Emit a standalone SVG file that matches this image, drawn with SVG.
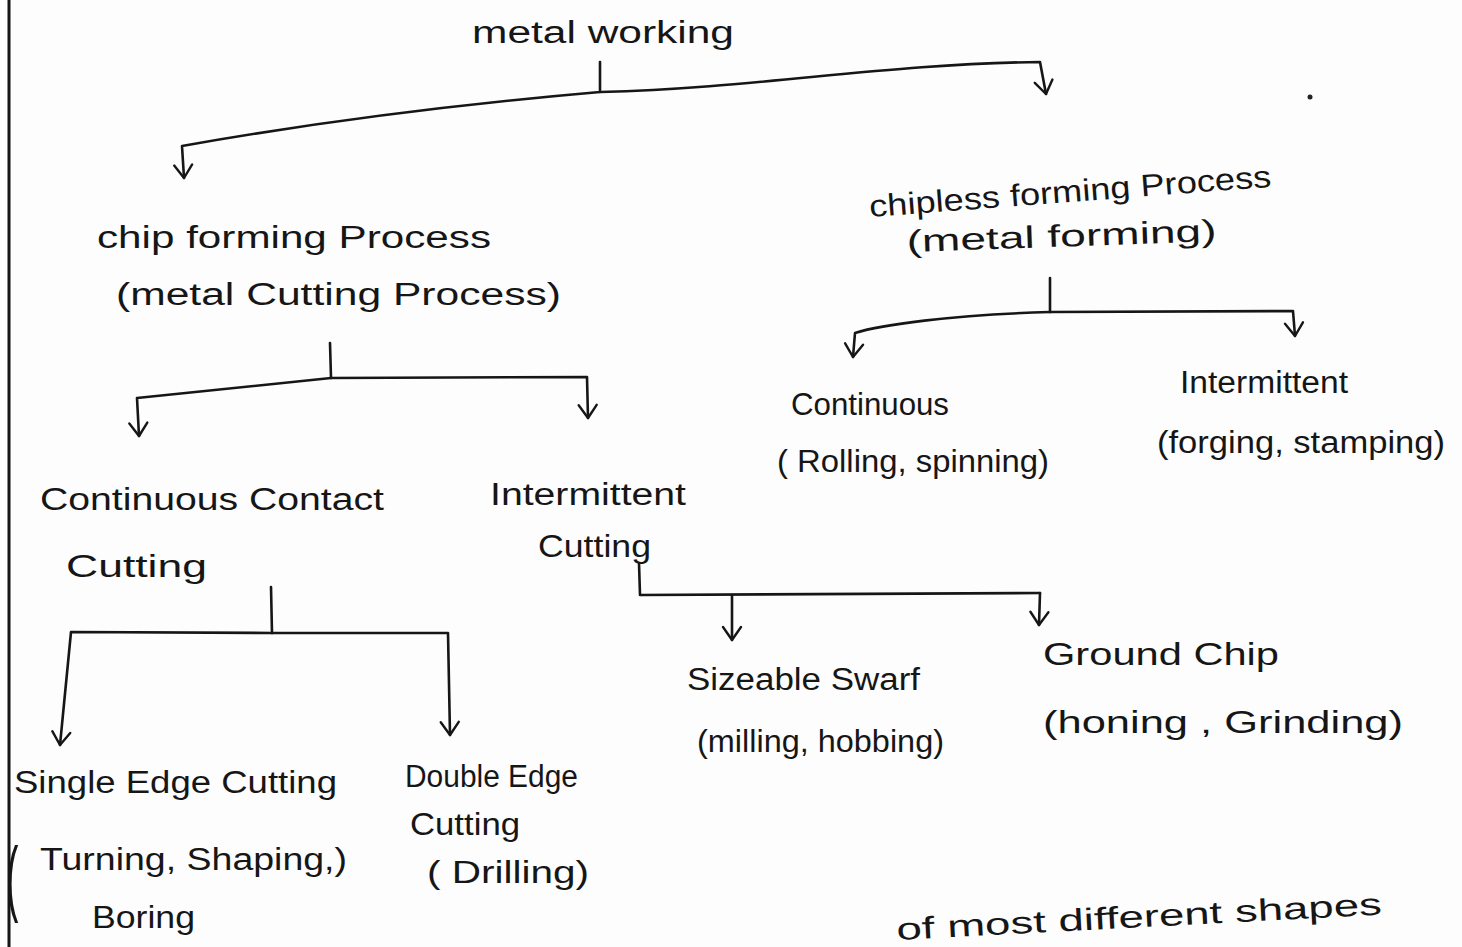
<svg xmlns="http://www.w3.org/2000/svg" width="1462" height="947" viewBox="0 0 1462 947">
<defs>
<style>
.t{font-family:"Liberation Sans","DejaVu Sans",sans-serif;font-size:31px;fill:#161616;}
.c{fill:none;stroke:#161616;stroke-width:2.6;stroke-linecap:round;stroke-linejoin:round;}
.a{marker-end:url(#arr);}
</style>
<marker id="arr" viewBox="-14 -11 16 22" refX="0" refY="0" markerWidth="16" markerHeight="22" markerUnits="userSpaceOnUse" orient="auto" overflow="visible">
<path d="M-13,-9 L0,0 L-13,9" fill="none" stroke="#161616" stroke-width="2.4" stroke-linecap="round" stroke-linejoin="round"/>
</marker>
</defs>
<rect x="0" y="0" width="1462" height="947" fill="#fdfdfd"/>
<line x1="9" y1="0" x2="9" y2="947" stroke="#161616" stroke-width="3"/>
<circle cx="1310" cy="97" r="2.5" fill="#222"/>

<g id="connectors">
<path class="c" d="M600,62 L600,90"/>
<path class="c a" d="M600,92 C450,105 300,125 182,146 L184,178"/>
<path class="c a" d="M600,92 C760,88 880,64 1040,62 L1046,94"/>
<path class="c" d="M330,343 L331,378"/>
<path class="c a" d="M331,378 L137,398 L139,436"/>
<path class="c a" d="M331,378 L587,377 L588,418"/>
<path class="c" d="M1050,278 L1050,312"/>
<path class="c a" d="M1050,312 C950,315 880,325 855,333 L853,357"/>
<path class="c a" d="M1050,312 L1293,311 L1295,336"/>
<path class="c" d="M271,587 L272,633"/>
<path class="c a" d="M272,633 L71,632 L60,745"/>
<path class="c a" d="M272,633 L448,633 L450,735"/>
<path class="c" d="M639,563 L640,595 L1040,593"/>
<path class="c a" d="M732,595 L732,640"/>
<path class="c a" d="M1040,593 L1039,625"/>
</g>

<g id="n-metal-working"><text class="t" x="472" y="43" textLength="262" lengthAdjust="spacingAndGlyphs">metal working</text></g>

<g id="n-chip-forming">
<text class="t" x="97" y="248" textLength="394" lengthAdjust="spacingAndGlyphs">chip forming Process</text>
<text class="t" x="116" y="305" textLength="445" lengthAdjust="spacingAndGlyphs">(metal Cutting Process)</text>
</g>

<g id="n-chipless-forming">
<text class="t" x="870" y="217" textLength="403" lengthAdjust="spacingAndGlyphs" transform="rotate(-4.3 870 217)">chipless forming Process</text>
<text class="t" x="907" y="252" textLength="310" lengthAdjust="spacingAndGlyphs" transform="rotate(-2 907 252)">(metal forming)</text>
</g>

<g id="n-continuous">
<text class="t" x="791" y="415" textLength="158" lengthAdjust="spacingAndGlyphs">Continuous</text>
<text class="t" x="777" y="472" textLength="272" lengthAdjust="spacingAndGlyphs">( Rolling, spinning)</text>
</g>

<g id="n-intermittent-forming">
<text class="t" x="1180" y="393" textLength="168" lengthAdjust="spacingAndGlyphs">Intermittent</text>
<text class="t" x="1157" y="453" textLength="288" lengthAdjust="spacingAndGlyphs">(forging, stamping)</text>
</g>

<g id="n-continuous-contact">
<text class="t" x="40" y="510" textLength="344" lengthAdjust="spacingAndGlyphs">Continuous Contact</text>
<text class="t" x="66" y="577" textLength="141" lengthAdjust="spacingAndGlyphs">Cutting</text>
</g>

<g id="n-intermittent-cutting">
<text class="t" x="490" y="505" textLength="196" lengthAdjust="spacingAndGlyphs">Intermittent</text>
<text class="t" x="538" y="557" textLength="113" lengthAdjust="spacingAndGlyphs">Cutting</text>
</g>

<g id="n-single-edge">
<text class="t" x="14" y="793" textLength="323" lengthAdjust="spacingAndGlyphs">Single Edge Cutting</text>
<text class="t" transform="translate(6 906) scale(1.2 2.7)" x="0" y="0">(</text>
<text class="t" x="40" y="870" textLength="307" lengthAdjust="spacingAndGlyphs">Turning, Shaping,)</text>
<text class="t" x="92" y="928" textLength="103" lengthAdjust="spacingAndGlyphs">Boring</text>
</g>

<g id="n-double-edge">
<text class="t" x="405" y="787" textLength="173" lengthAdjust="spacingAndGlyphs">Double Edge</text>
<text class="t" x="410" y="835" textLength="110" lengthAdjust="spacingAndGlyphs">Cutting</text>
<text class="t" x="427" y="883" textLength="162" lengthAdjust="spacingAndGlyphs">( Drilling)</text>
</g>

<g id="n-sizeable-swarf">
<text class="t" x="687" y="690" textLength="233" lengthAdjust="spacingAndGlyphs">Sizeable Swarf</text>
<text class="t" x="697" y="752" textLength="247" lengthAdjust="spacingAndGlyphs">(milling, hobbing)</text>
</g>

<g id="n-ground-chip">
<text class="t" x="1043" y="665" textLength="236" lengthAdjust="spacingAndGlyphs">Ground Chip</text>
<text class="t" x="1043" y="733" textLength="360" lengthAdjust="spacingAndGlyphs">(honing , Grinding)</text>
</g>

<g id="n-footer">
<text class="t" x="897" y="940" textLength="486" lengthAdjust="spacingAndGlyphs" transform="rotate(-3 897 940)">of most different shapes</text>
</g>
</svg>
